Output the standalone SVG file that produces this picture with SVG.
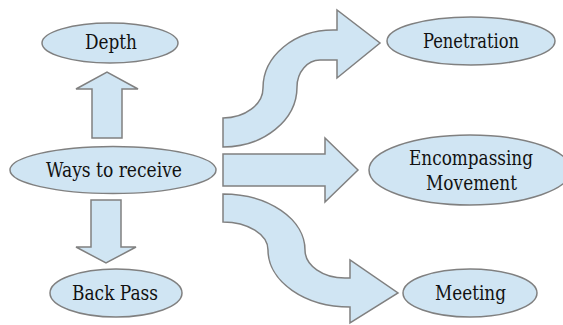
<svg xmlns="http://www.w3.org/2000/svg" width="563" height="325" viewBox="0 0 563 325">
<style>
.s{fill:#d0e5f3;stroke:#808080;stroke-width:1.5;stroke-linejoin:miter}
.t{font-family:"DejaVu Serif Condensed","DejaVu Serif",serif;font-size:20px;fill:#111;text-anchor:middle}
</style>
<rect width="563" height="325" fill="#fff"/>
<g id="connectors">
<path class="s" d="M92,138 L92,89 L76,89 L107,72 L138,89 L122,89 L122,138 Z"/>
<path class="s" d="M91,200 L121,200 L121,247 L136,247 L106,263 L76,247 L91,247 Z"/>
<path class="s" d="M223,118 A40,30 0 0 0 263,88 A70,58 0 0 1 333,30 L337,30 L337,10 L380,43 L337,78 L337,60 L320,60 A23,27 0 0 0 297,87 A74,60 0 0 1 223,147 Z"/>
<path class="s" d="M223,154 L325,154 L325,138 L358,170 L325,202 L325,186 L223,186 Z"/>
<path class="s" d="M223,194 A82,56 0 0 1 305,250 A40,28 0 0 0 345,278 L350,278 L350,260 L398,293 L350,323 L350,307 A82,57 0 0 1 268,250 A45,28 0 0 0 223,222 Z"/>
</g>
<g id="depth"><ellipse class="s" cx="110" cy="43" rx="68" ry="20"/><text class="t" x="111" y="49" textLength="52" lengthAdjust="spacingAndGlyphs">Depth</text></g>
<g id="ways"><ellipse class="s" cx="113" cy="170" rx="103" ry="23.5"/><text class="t" x="114" y="176.5" textLength="136" lengthAdjust="spacingAndGlyphs">Ways to receive</text></g>
<g id="backpass"><ellipse class="s" cx="116" cy="293" rx="66" ry="24"/><text class="t" x="115" y="299.5" textLength="86" lengthAdjust="spacingAndGlyphs">Back Pass</text></g>
<g id="penetration"><ellipse class="s" cx="471" cy="41" rx="84" ry="24"/><text class="t" x="471" y="47.5" textLength="96" lengthAdjust="spacingAndGlyphs">Penetration</text></g>
<g id="encompassing"><ellipse class="s" cx="470" cy="170" rx="101" ry="35"/><text class="t" x="471" y="164.5" textLength="124" lengthAdjust="spacingAndGlyphs">Encompassing</text><text class="t" x="471.5" y="189.5" textLength="91" lengthAdjust="spacingAndGlyphs">Movement</text></g>
<g id="meeting"><ellipse class="s" cx="470" cy="293" rx="67" ry="24"/><text class="t" x="470.5" y="299.5" textLength="71" lengthAdjust="spacingAndGlyphs">Meeting</text></g>
</svg>
